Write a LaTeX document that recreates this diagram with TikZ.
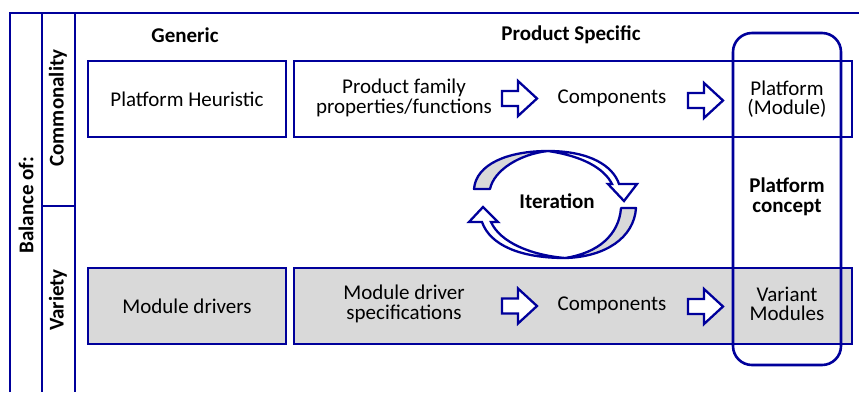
\documentclass[tikz,border=0pt]{standalone}
\usepackage{fontspec}
\setmainfont{Carlito}
\definecolor{navy}{RGB}{0,0,155}
\definecolor{panel}{RGB}{217,217,217}
\tikzset{
  rule/.style={draw=navy, line width=2.6pt},
  box/.style={draw=navy, line width=2.6pt, rectangle, minimum height=76, inner sep=0pt},
  label/.style={font=\fontsize{21}{19.5}\selectfont, align=center, inner sep=0pt},
  head/.style={font=\bfseries\fontsize{21}{19.5}\selectfont, align=center, inner sep=0pt},
  blockarrow/.pic={
    \draw[draw=navy, fill=white, line width=2.3pt, line join=miter]
      (0,-7.5) -- (16,-7.5) -- (16,-17.5) -- (35,0) -- (16,17.5) -- (16,7.5) -- (0,7.5) -- cycle;
  },
  cycback/.style={draw=navy, fill=panel, line width=2.3pt, line join=round},
  cycfront/.style={draw=navy, fill=white, line width=2.3pt, line join=miter}
}
\begin{document}
\begin{tikzpicture}[x=1pt, y=-1pt]
  \useasboundingbox (0,0) rectangle (859,392);

  % outer frame and side columns
  \coordinate (tl) at (10,13);
  \coordinate (tr) at (859,13);
  \draw[rule] (10,392) -- (tl) -- (tr);
  \draw[rule] (42,13) -- (42,392);
  \draw[rule] (75,13) -- (75,392);
  \draw[rule] (42,206) -- (75,206);

  \node[head, rotate=90] (balance) at (26,205) {Balance of:};
  \node[head, rotate=90] (common) at (58,108) {Commonality};
  \node[head, rotate=90] (variety) at (58,300) {Variety};

  % column headings
  \node[head] (generic) at (185,35) {Generic};
  \node[head] (specific) at (571,35) {Product Specific};

  % commonality row
  \node[box, fill=white, minimum width=198] (heur) at (187,99) {};
  \node[label] at (heur) {Platform Heuristic};
  \node[box, fill=white, minimum width=558] (prodtop) at (573,99) {};

  % variety row
  \node[box, fill=panel, minimum width=198] (drivers) at (187,306) {};
  \node[label] at (drivers) {Module drivers};
  \node[box, fill=panel, minimum width=558] (prodbot) at (573,306) {};

  % texts inside the product specific boxes
  \node[label] (family) at (404,98) {Product family\\properties/functions};
  \node[label] (comptop) at (612,98) {Components};
  \node[label] (platmod) at (787,99) {Platform\\(Module)};
  \node[label] (spec) at (404,304) {Module driver\\specifications};
  \node[label] (compbot) at (612,305) {Components};
  \node[label] (variant) at (787,304) {Variant\\Modules};

  % block arrows
  \pic at (502,98.5) {blockarrow};
  \pic at (688,100.5) {blockarrow};
  \pic at (502,306) {blockarrow};
  \pic at (688,306.5) {blockarrow};

  % platform concept outline
  \node[draw=navy, line width=2.6pt, rounded corners=19pt, minimum width=108, minimum height=332, inner sep=0pt] (concept) at (787,199) {};
  \node[head] (conceptlbl) at (787,197) {Platform\\concept};

  % iteration cycle: upper arrow (shaded tail, white head)
  \draw[cycback] (474,189) .. controls (476,164) and (508,151) .. (548,151)
    .. controls (520,154) and (494,170) .. (490,189) -- cycle;
  \draw[cycfront] (548,151) .. controls (590,151) and (613,166) .. (619,184)
    -- (637,184) -- (624,201) -- (608,184) -- (612,184)
    .. controls (604,168) and (582,156) .. (548,151) -- cycle;
  % lower arrow
  \draw[cycback] (636,208) .. controls (634,238) and (605,257) .. (565,258)
    .. controls (598,253) and (619,235) .. (621,208) -- cycle;
  \draw[cycfront] (565,258) .. controls (520,258) and (490,245) .. (482,222)
    -- (469,222) -- (483,207) -- (498,222) -- (491,222)
    .. controls (500,242) and (530,255) .. (565,258) -- cycle;
  \node[head] (iter) at (557,201) {Iteration};
\end{tikzpicture}
\end{document}
